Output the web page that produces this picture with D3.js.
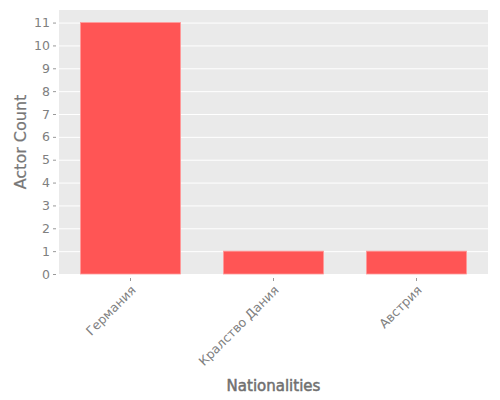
<!DOCTYPE html>
<html><head><meta charset="utf-8">
<script src="https://cdn.jsdelivr.net/npm/d3@7"></script>
<style>body{margin:0;background:#fff;} text{font-family:"DejaVu Sans",sans-serif;}</style>
</head><body>
<svg id="c" width="500" height="400"></svg>
<script>
const categories = ["Германия", "Кралство Дания", "Австрия"];
const counts = [11, 1, 1];
const yTicks = [0,1,2,3,4,5,6,7,8,9,10,11];

const svg = d3.select("#c");
const m = {l:59, r:12, t:10, b:126};
const W = 500, H = 400;
const x = d3.scaleBand().domain(categories).range([m.l, W-m.r]).paddingInner(0.3).paddingOuter(0.15);
const y = d3.scaleLinear().domain([0, 11.55]).range([H-m.b, m.t]);

svg.append("rect").attr("x", m.l).attr("y", m.t).attr("width", W-m.r-m.l).attr("height", H-m.b-m.t).attr("fill", "#EAEAEA");

const grid = svg.append("g").attr("transform", `translate(${m.l},0)`)
  .call(d3.axisLeft(y).tickValues(yTicks).tickSize(-(W-m.r-m.l)).tickFormat(""));
grid.select(".domain").remove();
grid.selectAll("line").attr("stroke", "#fff").attr("stroke-width", 1);

svg.append("g").selectAll("rect").data(categories).join("rect")
  .attr("x", d => x(d)).attr("width", x.bandwidth())
  .attr("y", (d,i) => y(counts[i])).attr("height", (d,i) => y(0) - y(counts[i]))
  .attr("fill", "#FF5555").attr("stroke", "#FF9A9A").attr("stroke-width", 0.8);

const ya = svg.append("g").attr("transform", `translate(${m.l-3},0)`)
  .call(d3.axisLeft(y).tickValues(yTicks).tickSize(3).tickPadding(3));
ya.select(".domain").remove();
ya.selectAll("line").attr("stroke", "#999");
ya.selectAll("text").attr("fill", "#808080").style("font-size", "12.5px");

const xa = svg.append("g").attr("transform", `translate(0,${H-m.b+4})`)
  .call(d3.axisBottom(x).tickSize(3).tickFormat(""));
xa.select(".domain").remove();
xa.selectAll("line").attr("stroke", "#999");

svg.append("g").selectAll("text").data(categories).join("text")
  .attr("transform", d => `translate(${x(d)+x.bandwidth()/2+6},${H-m.b+17}) rotate(-45)`)
  .attr("text-anchor", "end").attr("fill", "#808080").style("font-size", "12.5px")
  .text(d => d);

svg.append("text").attr("x", (m.l + W - m.r)/2).attr("y", 391).attr("text-anchor", "middle")
  .attr("fill", "#707070").attr("stroke", "#707070").attr("stroke-width", 0.5)
  .style("font-size", "15px").text("Nationalities");
svg.append("text").attr("transform", `translate(26,${(m.t + H - m.b)/2}) rotate(-90)`).attr("text-anchor", "middle")
  .attr("fill", "#777").attr("stroke", "#777").attr("stroke-width", 0.2)
  .style("font-size", "16px").text("Actor Count");
</script>
</body></html>
